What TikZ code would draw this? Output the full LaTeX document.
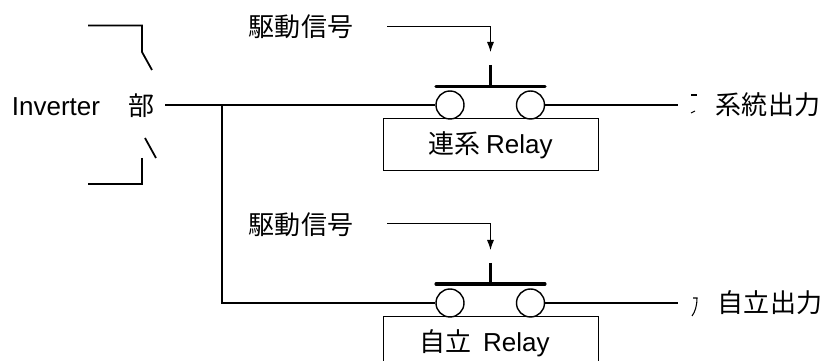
\documentclass[tikz,border=0pt]{standalone}
\usepackage{fontspec}
\usetikzlibrary{arrows.meta}
\setmainfont{Liberation Sans}
\newfontfamily\jpfont{Noto Sans CJK JP}
\tikzset{
  wire/.style={line width=1pt},
  contact/.style={circle, draw, line width=0.8pt, minimum size=0.56cm, inner sep=0pt},
  relaybox/.style={draw, line width=0.5pt, minimum width=4.3cm, minimum height=1.04cm, inner sep=0pt},
  label/.style={font=\fontsize{14.8}{16}\selectfont, inner sep=0pt},
  coilbar/.style={line width=1.8pt, line cap=round},
  signal/.style={line width=0.5pt, -{Latex[length=5.7pt,width=4pt]}},
  scrap/.style={line width=0.6pt}
}
\begin{document}
\begin{tikzpicture}[x=0.02cm, y=-0.02cm]
\useasboundingbox (0,0) rectangle (823,361);
\clip (0,0) rectangle (823,361);

% inverter side
\node[label] (invtext) at (56, 107) {Inverter};
\node[label] (invbu) at (142, 106) {\jpfont 部};
\coordinate (invout) at (165, 105);
\coordinate (junc) at (222, 105);
\coordinate (junclow) at (222, 303);

\draw[wire] (88, 25.5) -- (142, 25.5) -- (142, 52) -- (152, 70);
\draw[wire] (145, 138) -- (156, 158);
\draw[wire] (142, 158) -- (142, 184) -- (88, 184);

% upper relay
\node[contact] (AL) at (450, 105) {};
\node[contact] (AR) at (530.5, 105) {};
\node[relaybox] (Abox) at (490.5, 144) {};
\node[label] (Atext) at (490.5, 145) {\jpfont 連系\ \rmfamily Relay};
\node[label] (Asig) at (301, 27) {\jpfont 駆動信号};
\node[label] (Aout) at (768, 105) {\jpfont 系統出力};
\coordinate (Aend) at (678, 105);
\coordinate (Atip) at (490.5, 52);
\coordinate (Astem) at (490.5, 65);
\coordinate (Abl) at (436, 86.5);
\coordinate (Abr) at (545, 86.5);

\draw[wire] (invout) -- (AL);
\draw[wire] (AR) -- (Aend);
\draw[coilbar] (Abl) -- (Abr);
\draw[wire, line width=1.4pt] (Astem) -- (490.5, 86.5);
\draw[signal] (387, 26) -| (Atip);
\draw[scrap] (691, 95) -- (697, 95);
\draw[scrap] (691, 113) -- (695, 111);

% lower relay
\node[contact] (BL) at (450, 303) {};
\node[contact] (BR) at (530.5, 303) {};
\node[relaybox, minimum height=1.3cm] (Bbox) at (490.5, 348.5) {};
\node[label] (Btext) at (484.5, 343) {\jpfont 自立\ \ \rmfamily Relay};
\node[label] (Bsig) at (301, 225) {\jpfont 駆動信号};
\node[label] (Bout) at (770, 303) {\jpfont 自立出力};
\coordinate (Bend) at (678, 303);
\coordinate (Btip) at (490.5, 250);
\coordinate (Bstem) at (490.5, 263);
\coordinate (Bbl) at (436, 284);
\coordinate (Bbr) at (545, 284);

\draw[wire] (junc) -- (junclow) -- (BL);
\draw[wire] (BR) -- (Bend);
\draw[coilbar] (Bbl) -- (Bbr);
\draw[wire, line width=1.4pt] (Bstem) -- (490.5, 284);
\draw[signal] (387, 223.5) -| (Btip);
\draw[scrap] (693, 298) -- (697, 298) .. controls (697, 306) and (695, 312) .. (692, 316);
\end{tikzpicture}
\end{document}
